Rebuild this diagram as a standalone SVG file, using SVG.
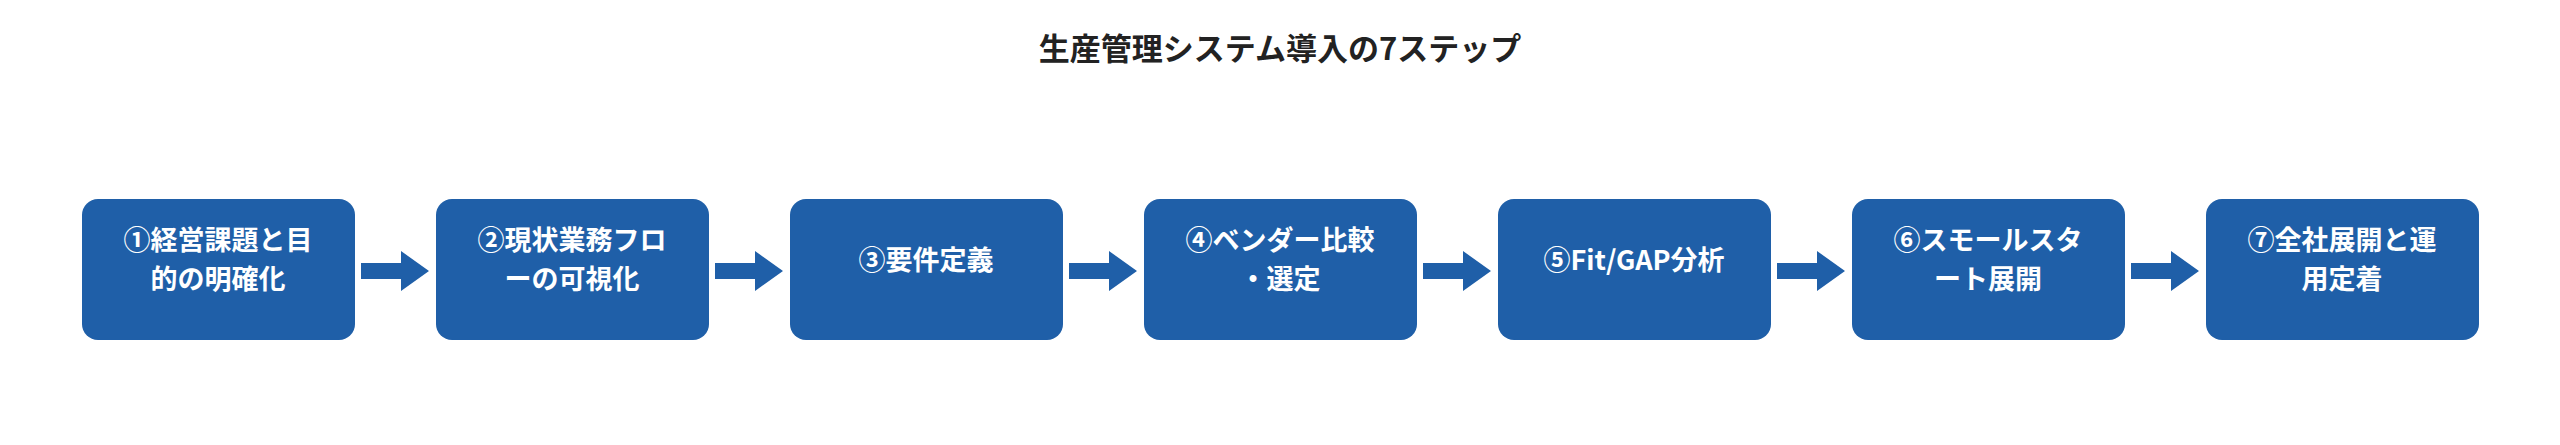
<svg xmlns="http://www.w3.org/2000/svg" width="2560" height="445" viewBox="0 0 2560 445">
<style>
text{font-family:"Noto Sans CJK JP","Noto Sans",sans-serif;font-weight:bold}
.t{font-size:31px;fill:#222;text-anchor:middle}
.b{fill:#1f5fa8}
.l{font-size:27px;fill:#fff;text-anchor:middle}
.a{fill:#1f5fa8}
</style>
<defs><path id="arr" d="M0,-8 H40 V-20 L68,0 L40,20 V8 H0 Z"/></defs>
<rect width="2560" height="445" fill="#fff"/>
<text class="t" x="1280" y="60">生産管理システム導入の7ステップ</text>
<g id="connectors" class="a">
<use href="#arr" x="361" y="271"/>
<use href="#arr" x="715" y="271"/>
<use href="#arr" x="1069" y="271"/>
<use href="#arr" x="1423" y="271"/>
<use href="#arr" x="1777" y="271"/>
<use href="#arr" x="2131" y="271"/>
</g>
<g id="n1"><rect class="b" x="82" y="199" width="273" height="141" rx="16"/><text class="l" x="218" y="250">①経営課題と目</text><text class="l" x="218" y="289">的の明確化</text></g>
<g id="n2"><rect class="b" x="436" y="199" width="273" height="141" rx="16"/><text class="l" x="572" y="250">②現状業務フロ</text><text class="l" x="572" y="289">ーの可視化</text></g>
<g id="n3"><rect class="b" x="790" y="199" width="273" height="141" rx="16"/><text class="l" x="926" y="270">③要件定義</text></g>
<g id="n4"><rect class="b" x="1144" y="199" width="273" height="141" rx="16"/><text class="l" x="1280" y="250">④ベンダー比較</text><text class="l" x="1280" y="289">・選定</text></g>
<g id="n5"><rect class="b" x="1498" y="199" width="273" height="141" rx="16"/><text class="l" x="1634" y="270">⑤Fit/GAP分析</text></g>
<g id="n6"><rect class="b" x="1852" y="199" width="273" height="141" rx="16"/><text class="l" x="1988" y="250">⑥スモールスタ</text><text class="l" x="1988" y="289">ート展開</text></g>
<g id="n7"><rect class="b" x="2206" y="199" width="273" height="141" rx="16"/><text class="l" x="2342" y="250">⑦全社展開と運</text><text class="l" x="2342" y="289">用定着</text></g>
</svg>
